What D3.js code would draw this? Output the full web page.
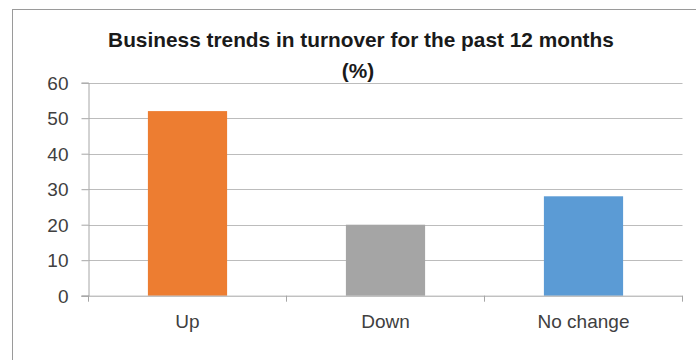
<!DOCTYPE html>
<html>
<head>
<meta charset="utf-8">
<script src="https://cdn.jsdelivr.net/npm/d3@7"></script>
<style>
  html, body { margin: 0; padding: 0; background: #fff; }
  svg { display: block; }
  text { font-family: "Liberation Sans", Arial, sans-serif; }
</style>
</head>
<body>
<svg id="chart" width="696" height="360"></svg>
<script>
// Chart data
const categories = ["Up", "Down", "No change"];
const values = [52, 20, 28];
const colors = ["#ED7D31", "#A5A5A5", "#5B9BD5"];
const yTicks = [0, 10, 20, 30, 40, 50, 60];
const titleLines = ["Business trends in turnover for the past 12 months", "(%)"];

const svg = d3.select("#chart");
const W = 696, H = 360;

// Chart frame
svg.append("rect")
  .attr("x", 12.5).attr("y", 9.5)
  .attr("width", W + 20).attr("height", H + 20)
  .attr("fill", "#fff").attr("stroke", "#9a9a9a").attr("stroke-width", 1);

const plot = { left: 88.5, right: 682.5, top: 82.7, bottom: 295.7 };

const x = d3.scaleBand()
  .domain(categories)
  .range([plot.left, plot.right])
  .paddingInner(0).paddingOuter(0);

const y = d3.scaleLinear()
  .domain([0, 60])
  .range([plot.bottom, plot.top]);

// Horizontal gridlines
svg.append("g")
  .selectAll("line")
  .data(yTicks.filter(d => d > 0))
  .join("line")
  .attr("x1", plot.left).attr("x2", plot.right)
  .attr("y1", d => Math.round(y(d)) + 0.5).attr("y2", d => Math.round(y(d)) + 0.5)
  .attr("stroke", "#bcbcbc").attr("stroke-width", 1);

// Bars (gap width 150% of bar width)
const barW = x.bandwidth() / 2.5;
svg.append("g")
  .selectAll("rect")
  .data(categories)
  .join("rect")
  .attr("x", (d) => x(d) + (x.bandwidth() - barW) / 2)
  .attr("width", barW)
  .attr("y", (d, i) => y(values[i]))
  .attr("height", (d, i) => y(0) - y(values[i]))
  .attr("fill", (d, i) => colors[i]);

// Y axis
const yAxis = svg.append("g")
  .attr("transform", `translate(${plot.left},0)`)
  .call(d3.axisLeft(y).tickValues(yTicks).tickSize(7).tickPadding(13).tickFormat(d3.format("d")));
yAxis.select(".domain").attr("stroke", "#a6a6a6");
yAxis.selectAll(".tick line").attr("stroke", "#a6a6a6");
yAxis.selectAll(".tick text")
  .attr("fill", "#404040")
  .style("font-size", "19px")
  .attr("dy", "0.34em");

// X axis with boundary ticks between categories
const boundaries = categories.map(c => x(c)).concat([x(categories[categories.length - 1]) + x.bandwidth()]);
const xg = svg.append("g").attr("transform", `translate(0,${plot.bottom})`);
xg.append("line")
  .attr("x1", plot.left - 7).attr("x2", plot.right)
  .attr("y1", 0.5).attr("y2", 0.5)
  .attr("stroke", "#a6a6a6");
xg.selectAll("line.b")
  .data(boundaries)
  .join("line")
  .attr("class", "b")
  .attr("x1", d => d).attr("x2", d => d)
  .attr("y1", 0).attr("y2", 6)
  .attr("stroke", "#a6a6a6");
xg.selectAll("text")
  .data(categories)
  .join("text")
  .attr("x", d => x(d) + x.bandwidth() / 2)
  .attr("y", 32.5)
  .attr("text-anchor", "middle")
  .attr("fill", "#404040")
  .style("font-size", "19px")
  .text(d => d);

// Title
const title = svg.append("g");
const cx = 361;
const t1 = title.append("text")
  .attr("x", cx).attr("y", 46.5)
  .attr("text-anchor", "middle")
  .attr("font-weight", "bold")
  .attr("fill", "#1a1a1a")
  .style("font-size", "18px")
  .text(titleLines[0]);
// fit the first line to its intended width
const w1 = t1.node().getComputedTextLength();
const fs = 18 * 506 / w1;
t1.style("font-size", fs + "px");
title.append("text")
  .attr("x", cx - 3).attr("y", 78)
  .attr("text-anchor", "middle")
  .attr("font-weight", "bold")
  .attr("fill", "#1a1a1a")
  .style("font-size", fs + "px")
  .text(titleLines[1]);
</script>
</body>
</html>
